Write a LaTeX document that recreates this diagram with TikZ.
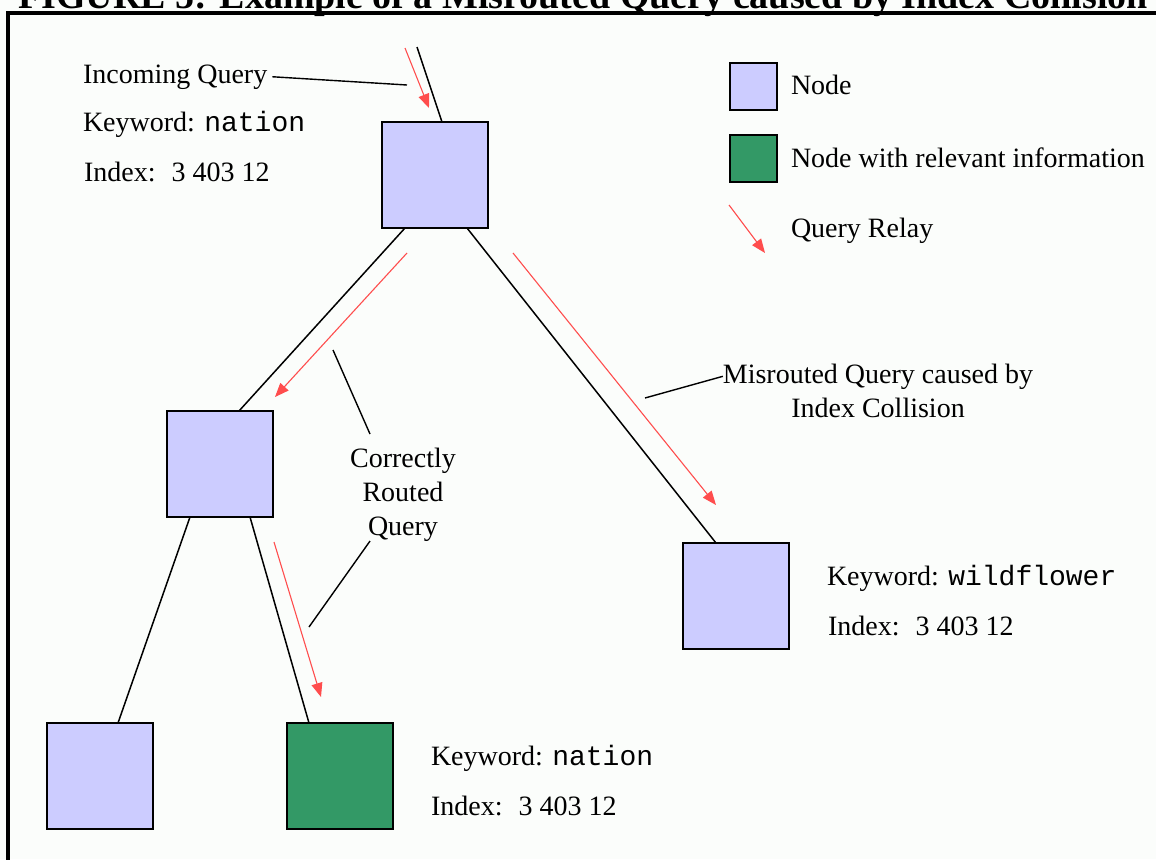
\documentclass[tikz,border=0pt]{standalone}
\usepackage{fontspec}
\setmainfont{Liberation Serif}
\setmonofont{Liberation Mono}
\usetikzlibrary{arrows.meta}
\definecolor{nodefill}{RGB}{204,204,255}
\definecolor{hitfill}{RGB}{51,153,102}
\definecolor{relay}{RGB}{255,77,77}
\definecolor{paper}{RGB}{251,253,251}
\begin{document}
\begin{tikzpicture}[x=1pt,y=-1pt,
  every node/.style={inner sep=0pt,outer sep=0pt},
  peer/.style={draw=black,line width=2pt,fill=nodefill,minimum size=106pt},
  hit/.style={peer,fill=hitfill},
  link/.style={line width=1.5pt,black},
  lead/.style={line width=1.4pt,black},
  relayarrow/.style={relay,line width=1.1pt,-{Triangle[length=14pt,width=11pt]}},
  lbl/.style={font=\fontsize{28}{34}\selectfont,anchor=base west},
  clbl/.style={font=\fontsize{28}{34}\selectfont,anchor=base},
]
\useasboundingbox (0,0) rectangle (1156,859);
\fill[paper] (0,0) rectangle (1156,859);

% heading, partly above the page edge
\node[font=\fontsize{38}{44}\selectfont\bfseries,anchor=base] (title) at (583,9)
  {FIGURE 5: Example of a Misrouted Query caused by Index Collision};

% frame (top and left sides)
\draw[line width=4pt,line join=miter] (8,864) -- (8,13) -- (1162,13);

% peers of the overlay
\node[peer] (root)  at (435,175)   {};
\node[peer] (mid)   at (220,464)   {};
\node[peer] (far)   at (735.5,596) {};
\node[peer] (leaf)  at (100,776)   {};
\node[hit]  (match) at (340,776)   {};

% overlay links
\coordinate (src) at (417,47);
\draw[link] (src) -- ([xshift=7pt]root.north);
\draw[link] ([xshift=-30pt]root.south) -- ([xshift=19pt]mid.north);
\draw[link] ([xshift=32pt]root.south) -- ([xshift=-19.5pt]far.north);
\draw[link] ([xshift=-30pt]mid.south) -- ([xshift=18pt]leaf.north);
\draw[link] ([xshift=30pt]mid.south) -- ([xshift=-31pt]match.north);

% query relays
\coordinate (r1a) at (405,48);  \coordinate (r1b) at (429,108);
\coordinate (r2a) at (407,253); \coordinate (r2b) at (275,397);
\coordinate (r3a) at (274,542); \coordinate (r3b) at (321,697);
\coordinate (r4a) at (513,253); \coordinate (r4b) at (716,505);
\draw[relayarrow] (r1a) -- (r1b);
\draw[relayarrow] (r2a) -- (r2b);
\draw[relayarrow] (r3a) -- (r3b);
\draw[relayarrow] (r4a) -- (r4b);

% query at the source
\node[lbl] (inq) at (83,83)  {Incoming Query};
\node[lbl] (kw1) at (83,131) {Keyword: \texttt{nation}};
\node[lbl] (ix1) at (84,181) {Index:\hspace{16pt}3 403 12};
\coordinate (inqend) at (407,85);
\draw[lead] ([xshift=5pt]inq.east) -- (inqend);

% legend
\node[peer,minimum size=47pt] (keypeer) at (753.5,86.5)  {};
\node[hit,minimum size=47pt]  (keyhit)  at (753.5,158.5) {};
\coordinate (kra) at (729,205); \coordinate (krb) at (765,253);
\draw[relayarrow] (kra) -- (krb);
\node[lbl] (kpeer)  at (791,94)  {Node};
\node[lbl] (khit)   at (791,167) {Node with relevant information};
\node[lbl] (krelay) at (791,237) {Query Relay};

% misrouted branch
\node[clbl] (mis1) at (878,383) {Misrouted Query caused by};
\node[clbl] (mis2) at (878,417) {Index Collision};
\coordinate (misfoot) at (645,398);
\draw[lead] (misfoot) -- (mis1.west);

% correctly routed branch
\node[clbl] (ok1) at (403,467) {Correctly};
\node[clbl] (ok2) at (403,501) {Routed};
\node[clbl] (ok3) at (403,535) {Query};
\coordinate (okup) at (333,350);   \coordinate (okuptext) at (370,434);
\coordinate (oklow) at (309,627);
\draw[lead] (okup) -- (okuptext);
\draw[lead] ([xshift=-33pt]ok3.south) -- (oklow);

% keys held by the reached peers
\node[lbl] (kw2) at (827,585) {Keyword: \texttt{wildflower}};
\node[lbl] (ix2) at (828,635) {Index:\hspace{16pt}3 403 12};
\node[lbl] (kw3) at (431,765) {Keyword: \texttt{nation}};
\node[lbl] (ix3) at (431,815) {Index:\hspace{16pt}3 403 12};
\end{tikzpicture}
\end{document}
